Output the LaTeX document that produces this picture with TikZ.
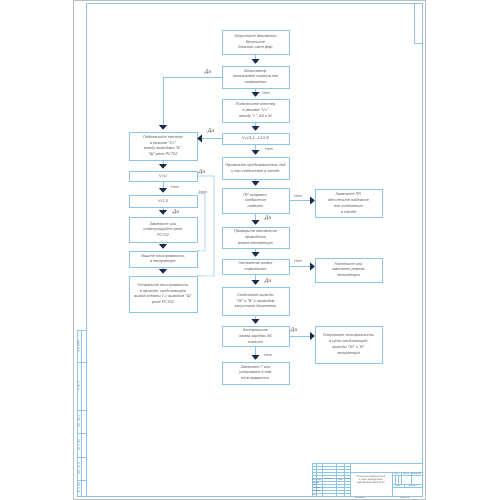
\documentclass[tikz,border=0pt]{standalone}
\usepackage{fontspec}
\setmainfont{Liberation Sans}
\usetikzlibrary{arrows.meta}
\definecolor{lb}{HTML}{8CC4EC}
\definecolor{nav}{HTML}{1C2B4A}
\definecolor{tx}{HTML}{5A5A5A}
\definecolor{gr}{HTML}{BDBDBD}
\begin{document}
\begin{tikzpicture}[x=1pt,y=-1pt,
 box/.style={draw=lb,line width=0.6pt,inner sep=0pt,align=center,text=tx,font=\fontsize{3.9}{5.8}\selectfont\itshape},
 mb/.style={box,minimum width=67pt},
 lbx/.style={box,minimum width=68pt},
 ln/.style={draw=lb,line width=0.6pt},
 harr/.style={ln,-{Triangle[length=4.5pt,width=7.5pt,color=nav]}},
 arr/.style={harr,shorten >=2pt},
 da/.style={text=tx,font=\fontsize{5}{5}\selectfont\itshape,inner sep=0pt},
 net/.style={text=tx,font=\fontsize{3.6}{4}\selectfont\itshape,inner sep=0pt},
 fr/.style={draw=lb,line width=0.5pt},
 tb/.style={text=tx,font=\fontsize{1.9}{2.3}\selectfont\itshape,inner sep=0pt,align=center}
]
\useasboundingbox (0,0) rectangle (500,500);
\fill[white] (0,0) rectangle (500,500);
% sheet and frame
\draw[gr,line width=0.6pt] (73,0.4) rectangle (425,499.4);
\draw[fr] (86,3) rectangle (422,496);
\draw[fr] (414,3) rectangle (422,43);
% left strip
\draw[fr] (77,330) rectangle (86,496);
\draw[fr] (81,330) -- (81,496);
\foreach \yy in {362,410,433,457,480} \draw[fr] (77,\yy) -- (86,\yy);
\node[tb,rotate=90] (s1) at (79,346) {Перв. примен.};
\node[tb,rotate=90] (s2) at (79,386) {Справ. №};
\node[tb,rotate=90] (s3) at (79,421.5) {Подп. и дата};
\node[tb,rotate=90] (s4) at (79,445) {Инв. № дубл.};
\node[tb,rotate=90] (s5) at (79,468.5) {Взам. инв. №};
\node[tb,rotate=90] (s6) at (79,488) {Инв. № подл.};
% title block
\draw[fr] (312,463) rectangle (422,496);
\foreach \xx in {316.2,322.1,335.8,344.7,350.6} \draw[fr] (\xx,463) -- (\xx,496);
\foreach \yy in {466,469,472,475,478,481,484,487,490,493} \draw[fr] (312,\yy) -- (350.6,\yy);
\draw[fr] (350.6,472) -- (422,472);
\draw[fr] (392,472) -- (392,496);
\draw[fr] (392,475) -- (422,475);
\draw[fr] (392,484) -- (422,484);
\draw[fr] (392,487) -- (422,487);
\draw[fr] (401,472) -- (401,484);
\draw[fr] (411,472) -- (411,484);
\draw[fr] (395,475) -- (395,484);
\draw[fr] (398,475) -- (398,484);
\draw[fr] (404,484) -- (404,487);
\node[tb] (t1) at (314.1,479.5) {Изм.};
\node[tb] (t2) at (319.1,479.5) {Лист};
\node[tb] (t3) at (329,479.5) {№ докум.};
\node[tb] (t4) at (340.2,479.5) {Подп.};
\node[tb] (t5) at (347.6,479.5) {Дата};
\node[tb,anchor=west] (t6) at (312.5,482.5) {Разраб.};
\node[tb,anchor=west] (t7) at (312.5,485.5) {Пров.};
\node[tb,anchor=west] (t8) at (312.5,488.5) {Т.контр.};
\node[tb,anchor=west] (t9) at (312.5,491.5) {Н.контр.};
\node[tb,anchor=west] (t10) at (312.5,494.5) {Утв.};
\node[tb,font=\fontsize{2.6}{3.4}\selectfont\itshape] (tt) at (371,479.5) {Поиск неисправностей\\в цепи генератора\\автомобиля ВАЗ-2107};
\node[tb] (t11) at (396.5,473.5) {Лит.};
\node[tb] (t12) at (406,473.5) {Масса};
\node[tb] (t13) at (416.5,473.5) {Масштаб};
\node[tb] (t14) at (398,485.5) {Лист};
\node[tb] (t15) at (413,485.5) {Листов 1};
\node[tb] (t16) at (360,498.2) {Копировал};
\node[tb] (t17) at (405,498.2) {Формат А1};
% main column
\node[mb,minimum height=24pt] (b1) at (255.5,42) {Запустите двигатель\\Включите\\дальний свет фар};
\node[mb,minimum height=22pt] (b2) at (255.5,77) {Вольтметр\\показывает нормальное\\напряжение};
\node[mb,minimum height=23pt] (b3) at (255.5,110.5) {Подключите тестер\\в режиме "V="\\между "+", АБ и М};
\node[mb,minimum height=11pt] (b4) at (255.5,138.5) {V=13,2...14,5 В};
\node[mb,minimum height=22pt] (b5) at (255.5,168) {Проверьте предохранитель №4\\и его соединения в гнезде};
\node[mb,minimum height=25pt] (b6) at (255.5,200.5) {ПР исправен,\\соединение\\надежно};
\node[mb,minimum height=21pt] (b7) at (255.5,237.5) {Проверьте натяжение\\приводного\\ремня генератора};
\node[mb,minimum height=15pt] (b8) at (255.5,266.5) {Натяжение ремня\\нормальное};
\node[mb,minimum height=28pt] (b9) at (255.5,301) {Соедините выводы\\"30" и "В" г проводом\\запустите двигатель};
\node[mb,minimum height=20pt] (b10) at (255.5,336) {Контрольная\\лампа зарядки АБ\\погасла};
\node[mb,minimum height=22pt] (b11) at (255.5,373) {Замените Г или\\устраните в нем\\неисправность};
% right column
\node[mb,minimum height=28pt] (r1) at (348.5,203) {Замените ПР,\\обеспечьте надежное\\его соединение\\в гнезде};
\node[mb,minimum height=24pt] (r2) at (348.5,270) {Натяните или\\замените ремень\\генератора};
\node[mb,minimum height=37pt] (r3) at (348.5,344.5) {Устраните неисправность\\в цепи соединяющей\\выводы "30" и "В"\\генератора};
% left column
\node[lbx,minimum height=28pt] (l1) at (163,146) {Подключите тестер\\в режиме "V="\\между выводами "В",\\"Ш" реле РС702};
\node[lbx,minimum height=10pt] (l2) at (163,176) {V≈U};
\node[lbx,minimum height=12pt] (l3) at (163,201) {V<1,0};
\node[lbx,minimum height=25pt] (l4) at (163,229.5) {Замените или\\отрегулируйте реле\\РС702};
\node[lbx,minimum height=16pt] (l5) at (163,259) {Ищите неисправность\\в генераторе};
\node[lbx,minimum height=36pt] (l6) at (163,294) {Устраните неисправность\\в проводе, соединяющем\\вывод клеммы Г с выводом "Ш"\\реле РС702};
\coordinate (k1) at (214,276);
\coordinate (k2) at (205,251);
% connectors main
\draw[arr] (b1) -- (b2);
\draw[arr] (b2) -- (b3);
\draw[arr] (b3) -- (b4);
\draw[arr] (b4) -- (b5);
\draw[arr] (b5) -- (b6);
\draw[arr] (b6) -- (b7);
\draw[arr] (b7) -- (b8);
\draw[arr] (b8) -- (b9);
\draw[arr] (b9) -- (b10);
\draw[arr] (b10) -- (b11);
\draw[harr] (b6.east) -- (b6.east -| r1.west);
\draw[harr] (b8.east) -- (b8.east -| r2.west);
\draw[harr] (b10.east) -- (b10.east -| r3.west);
\draw[arr] (b2.west) -| (l1.north);
\draw[harr] (b4.west) -- (b4.west -| l1.east);
% connectors left
\draw[arr] (l1) -- (l2);
\draw[arr] (l2) -- (l3);
\draw[arr] (l3) -- (l4);
\draw[arr] (l4) -- (l5);
\draw[arr] (l5) -- (l6);
\draw[ln] (l2.east) -| (k1) -- (l6.north east);
\draw[ln] ([yshift=1.5pt]l3.north east) -| (k2) -- (l5.north east);
% labels
\node[da] (d1) at (208,72) {Да};
\node[net] (n1) at (266,93.5) {Нет};
\node[da] (d2) at (211,131.5) {Да};
\node[net] (n2) at (269,149.5) {Нет};
\node[da] (d3) at (202,172.5) {Да};
\node[net] (n3) at (175,187.5) {Нет};
\node[net] (n4) at (203,192.5) {Нет};
\node[da] (d4) at (176,212) {Да};
\node[net] (n5) at (298,196) {Нет};
\node[da] (d5) at (268,218.5) {Да};
\node[net] (n6) at (298,261.5) {Нет};
\node[da] (d6) at (268,281.5) {Да};
\node[da] (d7) at (294,330.5) {Да};
\node[net] (n7) at (268,355.5) {Нет};
\end{tikzpicture}
\end{document}
